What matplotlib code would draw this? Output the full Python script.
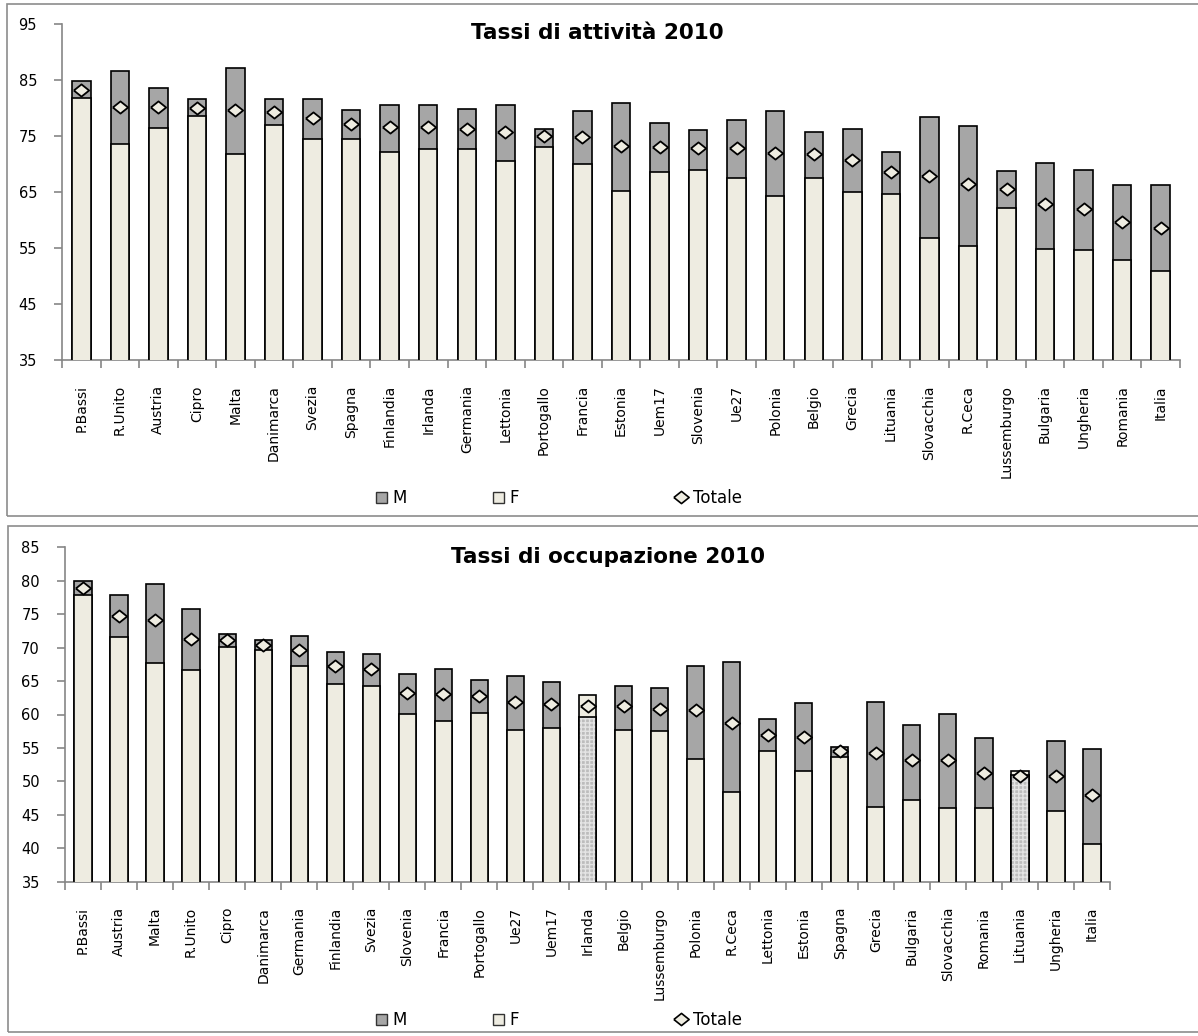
import numpy as np
import matplotlib
matplotlib.use("Agg")
import matplotlib.pyplot as plt
from matplotlib.patches import Patch, Rectangle
from matplotlib.lines import Line2D

# Tassi di attivita 2010
paesi_att = ["P.Bassi", "R.Unito", "Austria", "Cipro", "Malta", "Danimarca", "Svezia",
             "Spagna", "Finlandia", "Irlanda", "Germania", "Lettonia", "Portogallo",
             "Francia", "Estonia", "Uem17", "Slovenia", "Ue27", "Polonia", "Belgio",
             "Grecia", "Lituania", "Slovacchia", "R.Ceca", "Lussemburgo", "Bulgaria",
             "Ungheria", "Romania", "Italia"]
m_att = [84.9, 86.6, 83.5, 81.6, 87.1, 81.6, 81.6, 79.7, 80.6, 80.5, 79.9, 80.5, 76.3,
         79.5, 80.9, 77.4, 76.1, 77.9, 79.5, 75.7, 76.3, 72.2, 78.4, 76.7, 68.7, 70.2,
         68.9, 66.2, 66.2]
f_att = [81.8, 73.6, 76.4, 78.5, 71.7, 76.9, 74.4, 74.4, 72.1, 72.7, 72.7, 70.6, 73.1,
         70.0, 65.2, 68.5, 68.9, 67.5, 64.2, 67.5, 65.0, 64.7, 56.7, 55.3, 62.2, 54.8,
         54.6, 52.9, 50.9]
tot_att = [83.3, 80.2, 80.1, 80.0, 79.7, 79.3, 78.2, 77.1, 76.6, 76.6, 76.3, 75.8, 75.0,
           74.8, 73.2, 73.0, 72.9, 72.8, 71.9, 71.7, 70.8, 68.5, 67.8, 66.4, 65.5, 62.9,
           61.9, 59.7, 58.6]

# Tassi di occupazione 2010
paesi_occ = ["P.Bassi", "Austria", "Malta", "R.Unito", "Cipro", "Danimarca", "Germania",
             "Finlandia", "Svezia", "Slovenia", "Francia", "Portogallo", "Ue27", "Uem17",
             "Irlanda", "Belgio", "Lussemburgo", "Polonia", "R.Ceca", "Lettonia",
             "Estonia", "Spagna", "Grecia", "Bulgaria", "Slovacchia", "Romania",
             "Lituania", "Ungheria", "Italia"]
m_occ = [79.9, 77.9, 79.5, 75.8, 72.1, 71.2, 71.8, 69.4, 69.1, 66.1, 66.8, 65.2, 65.8,
         64.8, 59.7, 64.3, 63.9, 67.3, 67.9, 59.4, 61.7, 55.1, 61.8, 58.4, 60.1, 56.5,
         50.9, 56.1, 54.8]
f_occ = [77.8, 71.6, 67.7, 66.7, 70.1, 69.6, 67.3, 64.5, 64.2, 60.1, 59.0, 60.2, 57.7,
         58.0, 62.9, 57.7, 57.5, 53.4, 48.4, 54.5, 51.6, 53.7, 46.1, 47.2, 46.0, 46.0,
         51.6, 45.5, 40.6]
tot_occ = [78.9, 74.8, 74.1, 71.3, 71.1, 70.4, 69.6, 67.2, 66.8, 63.2, 63.0, 62.8, 61.8,
           61.5, 61.3, 61.2, 60.8, 60.6, 58.7, 57.0, 56.6, 54.5, 54.2, 53.2, 53.2, 51.3,
           50.8, 50.8, 48.0]

W, H = 1198, 1036
COL_M = '#a6a6a6'
COL_F = '#eeece1'
COL_AX = '#868686'
diamond = [(-1, 0), (0, 0.8), (1, 0), (0, -0.8), (-1, 0)]

fig = plt.figure(figsize=(W / 100, H / 100), dpi=100)


def add_ax(l, t, r, b):
    return fig.add_axes([l / W, 1 - b / H, (r - l) / W, (b - t) / H])


def panel(ax, paesi, m, f, tot, ymin, ymax, step):
    n = len(paesi)
    x = np.arange(n)
    m = np.array(m)
    f = np.array(f)
    ax.bar(x, m, width=0.48, color=COL_M, edgecolor='black', linewidth=1.2, zorder=2)
    ax.bar(x, f, width=0.48, color=COL_F, edgecolor='black', linewidth=1.2, zorder=3)
    # dove F > M la barra M viene ridisegnata davanti, con trama
    sel = f > m
    if sel.any():
        ax.bar(x[sel], m[sel], width=0.48, color='#bdbdbd', edgecolor='#e4e4e4',
               hatch='++++', linewidth=0, zorder=4)
        ax.bar(x[sel], m[sel], width=0.48, fill=False, edgecolor='black',
               linewidth=1.2, zorder=4)
    ax.plot(x, tot, ls='none', marker=diamond, ms=11, mfc=COL_F, mec='black',
            mew=1.3, zorder=5)
    ax.set_xlim(-0.5, n - 0.5)
    ax.set_ylim(ymin, ymax)
    ax.set_yticks(np.arange(ymin, ymax + 1, step))
    ax.set_xticks(np.arange(n + 1) - 0.5)
    ax.set_xticklabels([])
    ax.set_xticks(x, minor=True)
    ax.set_xticklabels(paesi, minor=True, rotation=90, fontsize=10)
    ax.tick_params(axis='x', which='major', length=6, color=COL_AX, width=1.2)
    ax.tick_params(axis='x', which='minor', length=0, pad=18)
    ax.tick_params(axis='y', length=6, color=COL_AX, width=1.2, labelsize=10.5, pad=12)
    for s in ['top', 'right']:
        ax.spines[s].set_visible(False)
    for s in ['left', 'bottom']:
        ax.spines[s].set_color(COL_AX)
        ax.spines[s].set_linewidth(1.2)


def legenda(y):
    items = [(376, Patch(facecolor=COL_M, edgecolor='#333333'), 'M'),
             (493, Patch(facecolor=COL_F, edgecolor='#333333'), 'F'),
             (676, Line2D([], [], ls='none', marker=diamond, ms=11, mfc=COL_F,
                          mec='black', mew=1.2), 'Totale')]
    for xp, h, lab in items:
        fig.legend(handles=[h], labels=[lab], loc='center left',
                   bbox_to_anchor=(xp / W, 1 - y / H), frameon=False, fontsize=12,
                   borderpad=0, borderaxespad=0, handlelength=0.65, handleheight=0.65,
                   handletextpad=0.35)


ax1 = add_ax(62, 24, 1180, 360)
panel(ax1, paesi_att, m_att, f_att, tot_att, 35, 95, 10)
ax2 = add_ax(65, 547.3, 1110, 881.7)
panel(ax2, paesi_occ, m_occ, f_occ, tot_occ, 35, 85, 5)

fig.text(597 / W, 1 - 33 / H, 'Tassi di attività 2010', ha='center', va='center',
         fontsize=15.5, fontweight='bold')
fig.text(608 / W, 1 - 557 / H, 'Tassi di occupazione 2010', ha='center', va='center',
         fontsize=15.5, fontweight='bold')

legenda(498)
legenda(1020)

# cornici dei due riquadri
fig.patches.append(Rectangle((7 / W, 1 - 516 / H), 1.2, 512 / H, fill=False,
                             edgecolor='#8c8c8c', linewidth=1.2,
                             transform=fig.transFigure))
fig.patches.append(Rectangle((8 / W, 1 - 1032 / H), 1.2, 506 / H, fill=False,
                             edgecolor='#8c8c8c', linewidth=1.2,
                             transform=fig.transFigure))

fig.savefig('out.png', dpi=100)
